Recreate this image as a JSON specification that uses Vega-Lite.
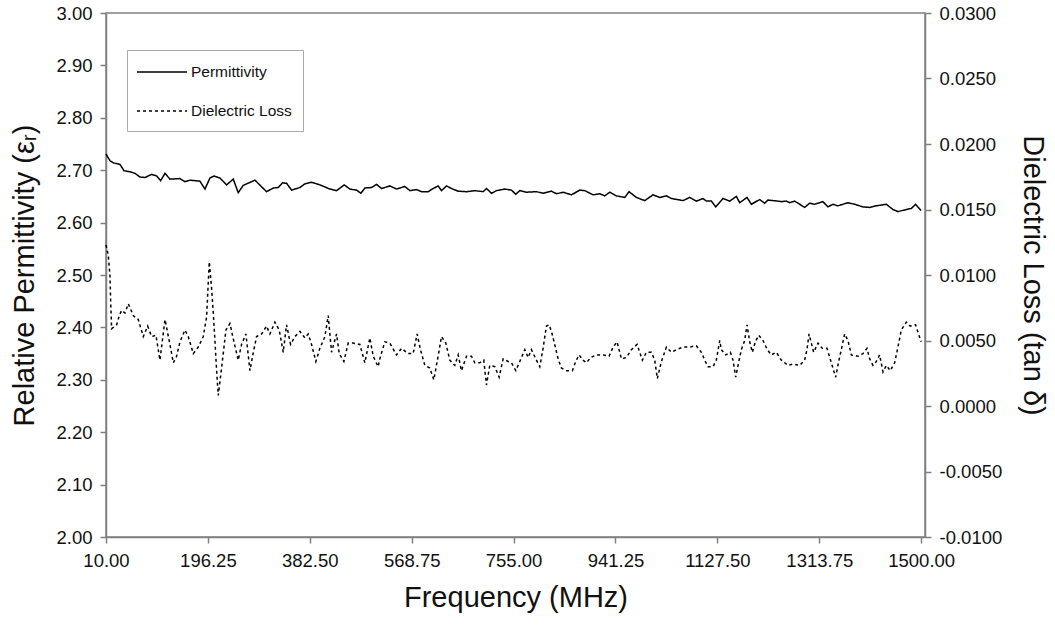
{
  "$schema": "https://vega.github.io/schema/vega-lite/v6.json",
  "width": 819,
  "height": 524,
  "autosize": {"type": "none"},
  "padding": {"left": 106, "top": 13, "right": 130, "bottom": 89},
  "background": "white",
  "datasets": {
    "perm": [
      {"f":10,"v":2.731},{"f":17.3,"v":2.718},{"f":23.4,"v":2.714},{"f":35.6,"v":2.711},{"f":42.9,"v":2.699},{"f":53.8,"v":2.697},{"f":63.0,"v":2.694},{"f":72.1,"v":2.687},{"f":81.2,"v":2.686},{"f":93.4,"v":2.692},{"f":102.6,"v":2.689},{"f":109.9,"v":2.680},{"f":117.8,"v":2.694},{"f":126.9,"v":2.683},{"f":145.2,"v":2.684},{"f":154.3,"v":2.678},{"f":163.5,"v":2.681},{"f":181.7,"v":2.679},{"f":190.9,"v":2.664},{"f":200.0,"v":2.685},{"f":207.3,"v":2.689},{"f":218.3,"v":2.685},{"f":230.5,"v":2.672},{"f":242.6,"v":2.683},{"f":251.7,"v":2.657},{"f":260.8,"v":2.671},{"f":282.2,"v":2.681},{"f":303.5,"v":2.659},{"f":315.7,"v":2.666},{"f":324.8,"v":2.667},{"f":332.8,"v":2.676},{"f":340.1,"v":2.675},{"f":349.2,"v":2.662},{"f":364.4,"v":2.667},{"f":373.5,"v":2.674},{"f":385.8,"v":2.677},{"f":401.0,"v":2.672},{"f":419.2,"v":2.664},{"f":431.5,"v":2.661},{"f":445.4,"v":2.672},{"f":455.8,"v":2.664},{"f":468.0,"v":2.662},{"f":475.9,"v":2.656},{"f":483.2,"v":2.666},{"f":495.4,"v":2.667},{"f":504.5,"v":2.673},{"f":513.7,"v":2.665},{"f":528.8,"v":2.670},{"f":541.1,"v":2.664},{"f":556.2,"v":2.669},{"f":565.4,"v":2.661},{"f":577.6,"v":2.663},{"f":586.7,"v":2.659},{"f":598.8,"v":2.659},{"f":608.0,"v":2.665},{"f":617.1,"v":2.670},{"f":623.3,"v":2.661},{"f":632.4,"v":2.670},{"f":641.6,"v":2.665},{"f":653.6,"v":2.660},{"f":669.0,"v":2.659},{"f":684.1,"v":2.661},{"f":699.3,"v":2.659},{"f":705.5,"v":2.665},{"f":714.6,"v":2.656},{"f":723.8,"v":2.661},{"f":738.9,"v":2.664},{"f":751.2,"v":2.662},{"f":759.0,"v":2.654},{"f":766.3,"v":2.661},{"f":778.6,"v":2.658},{"f":796.8,"v":2.659},{"f":808.9,"v":2.656},{"f":824.2,"v":2.660},{"f":833.4,"v":2.655},{"f":845.4,"v":2.658},{"f":860.8,"v":2.653},{"f":875.9,"v":2.662},{"f":885.1,"v":2.661},{"f":900.3,"v":2.653},{"f":912.5,"v":2.655},{"f":921.6,"v":2.651},{"f":930.8,"v":2.658},{"f":943.0,"v":2.651},{"f":958.2,"v":2.648},{"f":966.0,"v":2.659},{"f":979.5,"v":2.648},{"f":994.7,"v":2.642},{"f":1009.9,"v":2.653},{"f":1022.1,"v":2.648},{"f":1034.3,"v":2.651},{"f":1043.5,"v":2.646},{"f":1064.7,"v":2.642},{"f":1076.9,"v":2.648},{"f":1089.2,"v":2.641},{"f":1101.2,"v":2.646},{"f":1107.4,"v":2.641},{"f":1116.6,"v":2.641},{"f":1124.4,"v":2.630},{"f":1137.7,"v":2.646},{"f":1150.0,"v":2.641},{"f":1162.2,"v":2.650},{"f":1168.3,"v":2.638},{"f":1181.6,"v":2.648},{"f":1189.6,"v":2.635},{"f":1204.8,"v":2.644},{"f":1213.9,"v":2.637},{"f":1220.0,"v":2.643},{"f":1229.1,"v":2.642},{"f":1244.4,"v":2.640},{"f":1253.6,"v":2.641},{"f":1259.6,"v":2.638},{"f":1268.7,"v":2.641},{"f":1277.9,"v":2.635},{"f":1287.0,"v":2.629},{"f":1296.1,"v":2.637},{"f":1305.3,"v":2.635},{"f":1320.4,"v":2.640},{"f":1329.6,"v":2.630},{"f":1338.7,"v":2.635},{"f":1347.8,"v":2.632},{"f":1366.1,"v":2.638},{"f":1378.3,"v":2.635},{"f":1393.5,"v":2.630},{"f":1405.8,"v":2.629},{"f":1418.0,"v":2.632},{"f":1436.3,"v":2.635},{"f":1448.3,"v":2.625},{"f":1457.5,"v":2.621},{"f":1472.8,"v":2.625},{"f":1481.9,"v":2.627},{"f":1489.8,"v":2.635},{"f":1500,"v":2.623}
    ],
    "loss": [
      {"f":10,"v":0.0123},{"f":14.2,"v":0.0115},{"f":17.3,"v":0.0099},{"f":18.5,"v":0.0080},{"f":20.3,"v":0.0059},{"f":29.5,"v":0.0062},{"f":34.3,"v":0.0069},{"f":38.6,"v":0.0073},{"f":44.7,"v":0.0071},{"f":50.8,"v":0.0078},{"f":59.9,"v":0.0069},{"f":69.0,"v":0.0066},{"f":78.2,"v":0.0053},{"f":86.1,"v":0.0061},{"f":93.4,"v":0.0053},{"f":101.3,"v":0.0054},{"f":108.6,"v":0.0035},{"f":117.8,"v":0.0066},{"f":126.9,"v":0.0047},{"f":133.0,"v":0.0033},{"f":139.1,"v":0.0038},{"f":145.2,"v":0.0049},{"f":154.3,"v":0.0058},{"f":160.4,"v":0.0053},{"f":169.5,"v":0.0040},{"f":178.7,"v":0.0045},{"f":187.8,"v":0.0053},{"f":193.9,"v":0.0068},{"f":198.8,"v":0.0110},{"f":203.0,"v":0.0090},{"f":206.1,"v":0.0071},{"f":209.1,"v":0.0050},{"f":212.2,"v":0.0027},{"f":215.2,"v":0.0008},{"f":220.1,"v":0.0025},{"f":224.3,"v":0.0040},{"f":229.2,"v":0.0058},{"f":236.5,"v":0.0063},{"f":244.4,"v":0.0048},{"f":251.7,"v":0.0035},{"f":257.8,"v":0.0047},{"f":265.7,"v":0.0055},{"f":273.1,"v":0.0027},{"f":277.9,"v":0.0038},{"f":285.2,"v":0.0053},{"f":294.4,"v":0.0055},{"f":303.5,"v":0.0061},{"f":309.6,"v":0.0055},{"f":318.7,"v":0.0064},{"f":326.6,"v":0.0058},{"f":333.9,"v":0.0041},{"f":340.0,"v":0.0062},{"f":347.4,"v":0.0047},{"f":355.3,"v":0.0053},{"f":364.4,"v":0.0057},{"f":373.5,"v":0.0052},{"f":379.6,"v":0.0055},{"f":385.7,"v":0.0047},{"f":393.6,"v":0.0034},{"f":400.9,"v":0.0044},{"f":410.1,"v":0.0053},{"f":416.2,"v":0.0069},{"f":422.3,"v":0.0041},{"f":431.4,"v":0.0055},{"f":436.3,"v":0.0040},{"f":444.8,"v":0.0034},{"f":452.7,"v":0.0048},{"f":461.8,"v":0.0048},{"f":474.0,"v":0.0047},{"f":483.1,"v":0.0033},{"f":492.3,"v":0.0052},{"f":498.4,"v":0.0038},{"f":507.5,"v":0.0030},{"f":510.5,"v":0.0036},{"f":519.7,"v":0.0049},{"f":528.8,"v":0.0048},{"f":541.0,"v":0.0039},{"f":550.1,"v":0.0044},{"f":562.3,"v":0.0040},{"f":571.4,"v":0.0040},{"f":578.7,"v":0.0055},{"f":584.8,"v":0.0043},{"f":592.8,"v":0.0031},{"f":601.9,"v":0.0029},{"f":609.2,"v":0.0020},{"f":617.1,"v":0.0038},{"f":623.2,"v":0.0053},{"f":631.1,"v":0.0048},{"f":638.4,"v":0.0035},{"f":647.6,"v":0.0031},{"f":653.7,"v":0.0039},{"f":659.7,"v":0.0027},{"f":668.9,"v":0.0038},{"f":678.0,"v":0.0038},{"f":684.1,"v":0.0033},{"f":693.2,"v":0.0033},{"f":700.5,"v":0.0035},{"f":705.4,"v":0.0016},{"f":711.5,"v":0.0031},{"f":720.6,"v":0.0030},{"f":728.6,"v":0.0022},{"f":735.9,"v":0.0036},{"f":745.0,"v":0.0034},{"f":751.1,"v":0.0033},{"f":759.0,"v":0.0027},{"f":766.3,"v":0.0034},{"f":775.5,"v":0.0043},{"f":781.6,"v":0.0037},{"f":787.6,"v":0.0043},{"f":795.6,"v":0.0036},{"f":802.9,"v":0.0030},{"f":808.9,"v":0.0044},{"f":815.0,"v":0.0061},{"f":819.9,"v":0.0062},{"f":824.2,"v":0.0057},{"f":829.0,"v":0.0049},{"f":836.4,"v":0.0036},{"f":842.4,"v":0.0029},{"f":851.6,"v":0.0027},{"f":862.5,"v":0.0027},{"f":868.6,"v":0.0034},{"f":874.7,"v":0.0039},{"f":882.0,"v":0.0035},{"f":888.1,"v":0.0033},{"f":896.0,"v":0.0037},{"f":906.4,"v":0.0039},{"f":918.6,"v":0.0039},{"f":929.5,"v":0.0038},{"f":936.9,"v":0.0045},{"f":944.1,"v":0.0049},{"f":952.1,"v":0.0036},{"f":961.2,"v":0.0037},{"f":970.3,"v":0.0043},{"f":980.7,"v":0.0047},{"f":990.4,"v":0.0035},{"f":997.7,"v":0.0041},{"f":1006.9,"v":0.0041},{"f":1013.0,"v":0.0035},{"f":1017.8,"v":0.0021},{"f":1025.2,"v":0.0034},{"f":1034.3,"v":0.0045},{"f":1043.5,"v":0.0041},{"f":1052.6,"v":0.0043},{"f":1064.8,"v":0.0045},{"f":1076.9,"v":0.0045},{"f":1089.1,"v":0.0046},{"f":1098.2,"v":0.0041},{"f":1104.3,"v":0.0035},{"f":1110.4,"v":0.0030},{"f":1119.6,"v":0.0030},{"f":1125.6,"v":0.0035},{"f":1131.8,"v":0.0050},{"f":1134.8,"v":0.0043},{"f":1142.7,"v":0.0039},{"f":1151.2,"v":0.0041},{"f":1156.1,"v":0.0035},{"f":1161.0,"v":0.0022},{"f":1165.2,"v":0.0031},{"f":1171.3,"v":0.0043},{"f":1177.4,"v":0.0050},{"f":1181.7,"v":0.0062},{"f":1186.6,"v":0.0049},{"f":1191.4,"v":0.0041},{"f":1196.9,"v":0.0049},{"f":1203.0,"v":0.0054},{"f":1210.9,"v":0.0050},{"f":1218.8,"v":0.0043},{"f":1226.1,"v":0.0039},{"f":1235.3,"v":0.0041},{"f":1244.4,"v":0.0035},{"f":1256.6,"v":0.0031},{"f":1265.7,"v":0.0032},{"f":1277.9,"v":0.0031},{"f":1287.0,"v":0.0035},{"f":1291.3,"v":0.0043},{"f":1295.0,"v":0.0055},{"f":1299.2,"v":0.0048},{"f":1303.5,"v":0.0041},{"f":1311.4,"v":0.0048},{"f":1319.3,"v":0.0044},{"f":1327.9,"v":0.0044},{"f":1335.8,"v":0.0033},{"f":1343.7,"v":0.0022},{"f":1349.8,"v":0.0035},{"f":1354.0,"v":0.0043},{"f":1360.1,"v":0.0055},{"f":1366.2,"v":0.0050},{"f":1372.3,"v":0.0039},{"f":1384.5,"v":0.0038},{"f":1393.6,"v":0.0040},{"f":1400.9,"v":0.0044},{"f":1405.8,"v":0.0036},{"f":1411.9,"v":0.0031},{"f":1418.0,"v":0.0034},{"f":1424.1,"v":0.0039},{"f":1430.2,"v":0.0026},{"f":1436.3,"v":0.0031},{"f":1443.6,"v":0.0027},{"f":1451.5,"v":0.0033},{"f":1457.6,"v":0.0045},{"f":1463.7,"v":0.0058},{"f":1472.8,"v":0.0064},{"f":1480.1,"v":0.0061},{"f":1489.8,"v":0.0062},{"f":1495.9,"v":0.0054},{"f":1500,"v":0.0049}
    ]
  },
  "layer": [
    {
      "data": {"name": "perm"},
      "mark": {"type": "line", "color": "black", "strokeWidth": 1.5},
      "encoding": {
        "x": {"field": "f", "type": "quantitative", "scale": {"domain": [10, 1507], "nice": false, "zero": false},
          "axis": {"values": [10, 196.25, 382.5, 568.75, 755, 941.25, 1127.5, 1313.75, 1500], "format": ".2f", "title": "Frequency (MHz)", "labelPadding": 8, "titlePadding": 14, "labelFlush": false}},
        "y": {"field": "v", "type": "quantitative", "scale": {"domain": [2, 3], "nice": false, "zero": false},
          "axis": {"orient": "left", "values": [2, 2.1, 2.2, 2.3, 2.4, 2.5, 2.6, 2.7, 2.8, 2.9, 3], "format": ".2f", "title": "Relative Permittivity (εᵣ)", "labelPadding": 8, "titlePadding": 16}},
        "strokeDash": {"datum": "Permittivity", "type": "nominal",
          "scale": {"domain": ["Permittivity", "Dielectric Loss"], "range": [[1, 0], [3, 3]]},
          "legend": {"title": null, "orient": "none", "legendX": 21, "legendY": 37, "symbolType": "M-2.5,0H2.5", "symbolSize": 400, "symbolStrokeWidth": 1.5, "symbolStrokeColor": "black", "symbolFillColor": "transparent", "symbolOffset": 13, "labelOffset": 18, "labelFontSize": 15.5, "labelFont": "Liberation Sans", "labelColor": "#111", "strokeColor": "#aaa", "fillColor": "white", "padding": 11, "rowPadding": 19}}
      }
    },
    {
      "data": {"name": "loss"},
      "mark": {"type": "line", "color": "black", "strokeWidth": 1.5},
      "encoding": {
        "x": {"field": "f", "type": "quantitative"},
        "y": {"field": "v", "type": "quantitative", "scale": {"domain": [-0.01, 0.03], "nice": false, "zero": false},
          "axis": {"orient": "right", "values": [-0.01, -0.005, 0, 0.005, 0.01, 0.015, 0.02, 0.025, 0.03], "labelExpr": "replace(format(datum.value, '.4f'), '−', '-')", "title": "Dielectric Loss (tan δ)", "labelPadding": 8, "titlePadding": 16}},
        "strokeDash": {"datum": "Dielectric Loss", "type": "nominal"}
      }
    }
  ],
  "resolve": {"scale": {"y": "independent"}},
  "config": {
    "font": "Liberation Sans",
    "view": {"stroke": "#808080", "strokeWidth": 1.5},
    "axis": {"grid": false, "domainColor": "#808080", "domainWidth": 1.5, "tickColor": "#808080", "tickWidth": 1.5, "tickSize": 6,
      "labelFont": "Liberation Sans", "labelFontSize": 18.5, "labelColor": "#111",
      "titleFont": "Liberation Sans", "titleFontSize": 29, "titleFontWeight": "normal", "titleColor": "#111"}
  }
}
